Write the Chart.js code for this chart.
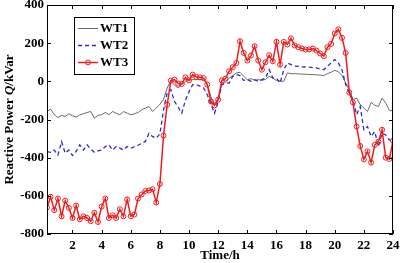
<!DOCTYPE html>
<html>
<head>
<meta charset="utf-8">
<script src="https://cdn.jsdelivr.net/npm/chart.js@4/dist/chart.umd.min.js"></script>
<style>
    html, body { margin: 0; padding: 0; background: #fff; }
    #grafico { display: block; }
</style>
</head>
<body>
<canvas id="grafico" width="400" height="263"></canvas>
<script>
// eixo do tempo: 96 pontos de 15 min
const horas = Array.from({ length: 96 }, (_, i) => (i + 1) * 0.25);
const ticksX = [2, 4, 6, 8, 10, 12, 14, 16, 18, 20, 22, 24];
const ticksY = [-800, -600, -400, -200, 0, 200, 400];
const nomes = ['WT1', 'WT2', 'WT3'];

const wt1 = [
    -158, -146, -175, -190, -178, -184, -170, -181, -188, -176,
    -170, -163, -158, -193, -178, -175, -163, -175, -158, -167,
    -175, -158, -167, -175, -170, -163, -149, -140, -132, -158,
    -140, -120, -95, -35, 5, -20, -35, -17, 0, 5,
    9, 9, 9, 8, -17, -80, -123, -88, -15, -5,
    17, 30, 44, 47, 26, 9, 14, 5, 9, 5,
    10, 26, 17, 4, 2, 0, 44, 40, 40, 39,
    38, 37, 36, 35, 34, 33, 30, 40, 48, 58,
    50, 30, -9, -44, -96, -88, -123, -140, -158, -110,
    -125, -132, -88, -114, -153, -154
];

const wt2 = [
    -368, -372, -360, -386, -316, -377, -360, -389, -368, -333,
    -360, -333, -355, -372, -365, -360, -342, -333, -360, -342,
    -350, -360, -342, -351, -342, -335, -325, -315, -272, -290,
    -298, -275, -150, -60, -44, -105, -135, -167, -100, -55,
    -17, -17, -25, -35, -70, -120, -167, -105, -17, -10,
    -9, 26, 35, 30, 5, 9, 0, 9, 0, 9,
    17, 61, 17, 17, -9, 61, 96, 88, 80, 78,
    76, 75, 74, 72, 70, 65, 61, 79, 96, 114,
    96, 61, -17, -61, -96, -175, -132, -254, -237, -289,
    -263, -342, -272, -281, -307, -316
];

const wt3 = [
    -661, -605, -675, -614, -707, -625, -663, -716, -651, -723,
    -707, -716, -733, -689, -737, -656, -614, -716, -702, -716,
    -670, -707, -619, -707, -698, -614, -593, -575, -572, -565,
    -635, -538, -284, -123, 4, 9, -12, -14, 21, 5,
    35, 23, 21, 17, -17, -105, -126, -96, 5, 14,
    53, 74, 96, 210, 149, 109, 135, 184, 109, 61,
    100, 137, 105, 207, 88, 207, 193, 225, 188, 179,
    172, 167, 167, 172, 161, 146, 132, 179, 196, 251,
    272, 228, 149, -58, -110, -237, -339, -409, -367, -426,
    -333, -316, -254, -400, -407, -311
];

const fonte = 'bold 13px "Liberation Serif", "Times New Roman", serif';
const cores = { wt1: '#6a6a6a', wt2: '#2b2bd0', wt3: '#f01c1c' };

function pontos(valores) {
    return horas.map((h, i) => ({ x: h, y: valores[i] }));
}

// caixa, ticks para dentro, titulos dos eixos e legenda
const molduraPlugin = {
    id: 'moldura',
    afterDraw(chart) {
        const ctx = chart.ctx;
        const a = chart.chartArea;
        const sx = chart.scales.x;
        const sy = chart.scales.y;
        ctx.save();
        ctx.strokeStyle = '#000';
        ctx.lineWidth = 1;
        ctx.strokeRect(a.left + 0.5, a.top + 0.5, a.right - a.left - 1, a.bottom - a.top - 1);

        ctx.beginPath();
        ticksX.forEach(function (v) {
            const px = Math.round(sx.getPixelForValue(v)) + 0.5;
            ctx.moveTo(px, a.bottom);
            ctx.lineTo(px, a.bottom - 4);
            ctx.moveTo(px, a.top);
            ctx.lineTo(px, a.top + 4);
        });
        ticksY.forEach(function (v) {
            const py = Math.round(sy.getPixelForValue(v)) + 0.5;
            ctx.moveTo(a.left, py);
            ctx.lineTo(a.left + 4, py);
            ctx.moveTo(a.right, py);
            ctx.lineTo(a.right - 4, py);
        });
        ctx.stroke();

        // titulo do eixo x
        ctx.fillStyle = '#000';
        ctx.font = fonte;
        ctx.textAlign = 'center';
        ctx.textBaseline = 'middle';
        ctx.fillText('Time/h', (a.left + a.right) / 2, 256);

        // titulo do eixo y (com Q em italico)
        const partes = [
            { t: 'Reactive Power ', f: fonte },
            { t: 'Q', f: 'italic ' + fonte },
            { t: '/kVar', f: fonte }
        ];
        let total = 0;
        partes.forEach(function (p) {
            ctx.font = p.f;
            p.w = ctx.measureText(p.t).width;
            total += p.w;
        });
        ctx.save();
        ctx.translate(10, (a.top + a.bottom) / 2);
        ctx.rotate(-Math.PI / 2);
        ctx.textAlign = 'left';
        let pos = -total / 2;
        partes.forEach(function (p) {
            ctx.font = p.f;
            ctx.fillText(p.t, pos, 0);
            pos += p.w;
        });
        ctx.restore();

        // legenda
        ctx.fillStyle = '#fff';
        ctx.fillRect(74.5, 17.5, 60, 57);
        ctx.strokeStyle = '#000';
        ctx.strokeRect(74.5, 17.5, 60, 57);
        const linhas = [
            { y: 28, cor: cores.wt1, dash: [], w: 1 },
            { y: 45, cor: cores.wt2, dash: [4, 3], w: 1.3 },
            { y: 62, cor: cores.wt3, dash: [], w: 1.5 }
        ];
        linhas.forEach(function (l, i) {
            ctx.strokeStyle = l.cor;
            ctx.lineWidth = l.w;
            ctx.setLineDash(l.dash);
            ctx.beginPath();
            ctx.moveTo(78, l.y + 0.5);
            ctx.lineTo(98, l.y + 0.5);
            ctx.stroke();
            ctx.setLineDash([]);
            if (i === 2) {
                ctx.lineWidth = 1;
                ctx.beginPath();
                ctx.arc(88, l.y + 0.5, 2.5, 0, Math.PI * 2);
                ctx.stroke();
            }
            ctx.fillStyle = '#000';
            ctx.font = fonte;
            ctx.textAlign = 'left';
            ctx.textBaseline = 'middle';
            ctx.fillText(nomes[i], 100, l.y + 1);
        });
        ctx.restore();
    }
};

new Chart(document.getElementById('grafico').getContext('2d'), {
    type: 'line',
    data: {
        datasets: [
            {
                label: nomes[2],
                data: pontos(wt3),
                borderColor: cores.wt3,
                borderWidth: 1.5,
                pointRadius: 2.5,
                pointBorderWidth: 1,
                pointBorderColor: cores.wt3,
                pointBackgroundColor: 'rgba(255,255,255,0)',
                tension: 0,
                order: 0
            },
            {
                label: nomes[1],
                data: pontos(wt2),
                borderColor: cores.wt2,
                borderWidth: 1.3,
                borderDash: [4, 3],
                pointRadius: 0,
                tension: 0,
                order: 1
            },
            {
                label: nomes[0],
                data: pontos(wt1),
                borderColor: cores.wt1,
                borderWidth: 1,
                pointRadius: 0,
                tension: 0,
                order: 2
            }
        ]
    },
    options: {
        responsive: false,
        animation: false,
        devicePixelRatio: 1,
        layout: { padding: { left: 0, right: 7, top: 5, bottom: 0 } },
        plugins: {
            legend: { display: false },
            tooltip: { enabled: false }
        },
        scales: {
            x: {
                type: 'linear',
                min: 0.25,
                max: 24,
                afterBuildTicks: function (s) {
                    s.ticks = ticksX.map(v => ({ value: v }));
                },
                afterFit: function (s) {
                    s.height = 29;
                    s.paddingLeft = 0;
                    s.paddingRight = 0;
                },
                grid: { display: false, drawTicks: false },
                border: { display: false },
                ticks: {
                    color: '#000',
                    font: { family: '"Liberation Serif", serif', size: 13, weight: 'bold' },
                    padding: 4,
                    maxRotation: 0,
                    autoSkip: false
                }
            },
            y: {
                min: -800,
                max: 400,
                afterBuildTicks: function (s) {
                    s.ticks = ticksY.map(v => ({ value: v }));
                },
                afterFit: function (s) {
                    s.width = 47;
                    s.paddingTop = 0;
                    s.paddingBottom = 0;
                },
                grid: { display: false, drawTicks: false },
                border: { display: false },
                ticks: {
                    color: '#000',
                    font: { family: '"Liberation Serif", serif', size: 13, weight: 'bold' },
                    padding: 3
                }
            }
        }
    },
    plugins: [molduraPlugin]
});
</script>
</body>
</html>
